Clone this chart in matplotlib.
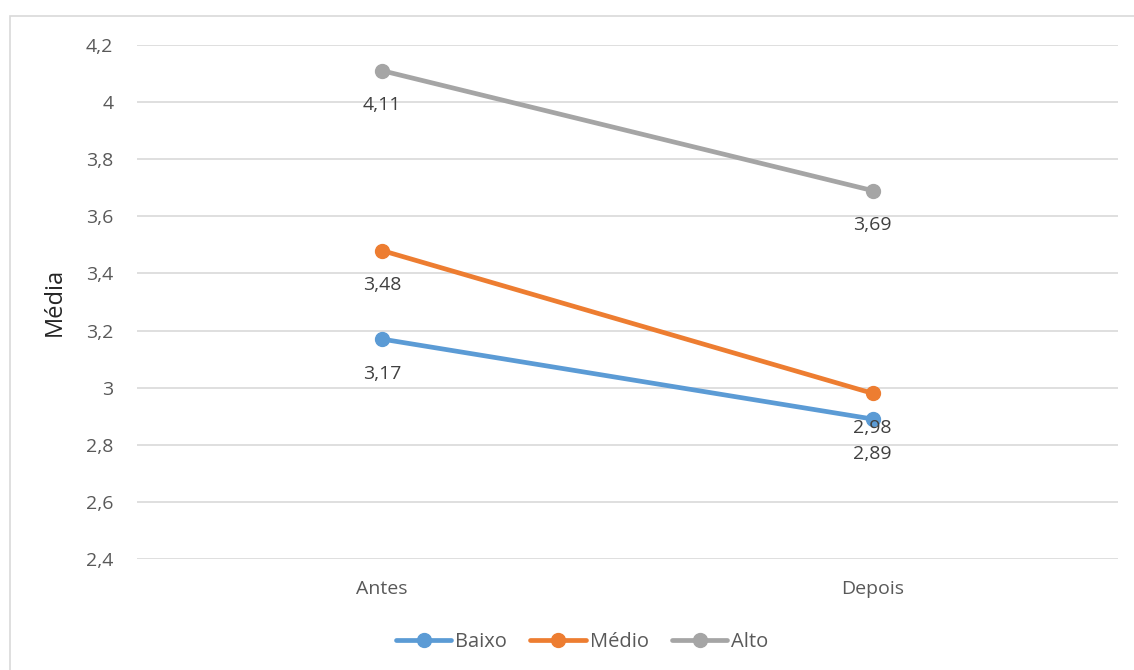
import matplotlib
matplotlib.use("Agg")
import matplotlib.pyplot as plt
from matplotlib.patches import Rectangle

plt.rcParams['font.family'] = ['Open Sans', 'DejaVu Sans']

categories = ["Antes", "Depois"]
baixo = [3.17, 2.89]
medio = [3.48, 2.98]
alto = [4.11, 3.69]
yticks = [2.4, 2.6, 2.8, 3.0, 3.2, 3.4, 3.6, 3.8, 4.0, 4.2]

series = [("Baixo", baixo, "#5B9BD5"),
          ("Médio", medio, "#ED7D31"),
          ("Alto", alto, "#A5A5A5")]

fig = plt.figure(figsize=(11.34, 6.7), dpi=100)
# light outer frame of the chart area (cut off on right and bottom)
fig.patches.append(Rectangle((10 / 1134, -0.1), 1.2, 1 - 16 / 670 + 0.1,
                             transform=fig.transFigure, fill=False,
                             edgecolor="#D9D9D9", linewidth=1.2))
ax = fig.add_axes([137 / 1134, 1 - 559 / 670, 981 / 1134, 514 / 670])

x = list(range(len(categories)))
for name, vals, color in series:
    ax.plot(x, vals, color=color, linewidth=3.4, marker="o", markersize=10,
            label=name, solid_capstyle="round")
    for xi, v in zip(x, vals):
        ax.annotate(f"{v:.2f}".replace(".", ","), (xi, v), xytext=(0, -25),
                    textcoords="offset points", ha="center", va="center",
                    fontsize=14, color="#404040")

ax.set_xlim(-0.5, 1.5)
ax.set_ylim(2.4, 4.2)
ax.set_yticks(yticks)
ax.set_yticklabels([f"{t:g}".replace(".", ",") for t in yticks])
ax.set_xticks(x)
ax.set_xticklabels(categories)
ax.tick_params(axis="both", length=0, labelsize=14, labelcolor="#595959")
ax.tick_params(axis="y", pad=17)
ax.tick_params(axis="x", pad=15)
ax.grid(axis="y", color="#D9D9D9", linewidth=1.2)
ax.set_axisbelow(True)
for s in ax.spines.values():
    s.set_visible(False)
ax.set_ylabel("Média", fontsize=17, color="#262626", labelpad=14)

ax.legend(loc="center", bbox_to_anchor=(0.454, -0.161), ncol=3, frameon=False,
          fontsize=14.5, handlelength=2.75, columnspacing=1.15, handletextpad=0.2,
          labelcolor="#595959")

fig.savefig("out.png", dpi=100)
